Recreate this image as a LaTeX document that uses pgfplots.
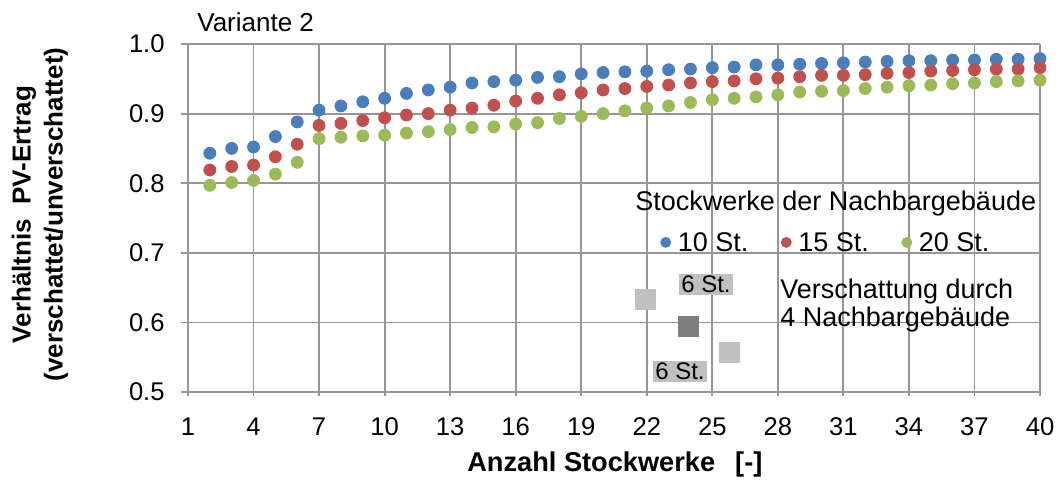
\documentclass[border=0pt]{standalone}
\usepackage{fontspec}
\setmainfont{Liberation Sans}
\usepackage{pgfplots}
\pgfplotsset{compat=1.18}
\definecolor{cb}{RGB}{74,126,187}
\definecolor{cr}{RGB}{192,80,77}
\definecolor{cg}{RGB}{155,187,89}
\definecolor{gridc}{RGB}{150,150,150}
\definecolor{lg}{RGB}{192,192,192}
\definecolor{dg}{RGB}{127,127,127}
\pgfdeclarelayer{whitebox}
\pgfplotsset{layers/mylayers/.define layer set={axis background,axis grid,whitebox,axis ticks,axis lines,axis tick labels,pre main,main,axis descriptions,axis foreground}{}}
\begin{document}
\begin{tikzpicture}
\begin{axis}[name=ax, set layers=mylayers,
  scale only axis, width=426pt, height=174pt,
  xmin=1, xmax=40, ymin=0.5, ymax=1.0,
  xtick={1,4,7,10,13,16,19,22,25,28,31,34,37,40},
  ytick={0.5,0.6,0.7,0.8,0.9,1.0},
  clip=false,
  grid=major,
  major grid style={draw=gridc, line width=0.9pt},
  axis lines=left,
  axis line style={draw=gridc, line width=0.9pt, -},
  tick style={draw=gridc, line width=0.9pt},
  major tick length=3.5pt,
  xtick align=center, ytick align=outside,
  /pgf/number format/assume math mode=true,
  tick label style={font=\fontsize{12.8}{15}\selectfont},
  xticklabel style={anchor=base, yshift=-20pt},
  yticklabel style={anchor=east, inner sep=0pt, xshift=-8pt, /pgf/number format/.cd, fixed, fixed zerofill, precision=1},
  xlabel={Anzahl Stockwerke\hspace{10pt}[-]},
  xlabel style={at={(axis description cs:0.501,-0.227)}, anchor=base, font=\bfseries\fontsize{13.6}{15}\selectfont},
  ylabel={Verhältnis\ \ PV-Ertrag\\(verschattet/unverschattet)},
  ylabel style={at={(axis description cs:-0.1737,0.51)}, anchor=center, align=center, font=\bfseries\fontsize{13}{16}\selectfont},
  legend columns=3,
  legend image code/.code={\path (0pt,7.9pt) (0pt,-2.5pt); \draw[#1, mark size=2.5pt] plot coordinates {(0pt,0pt)};},
  legend style={at={(axis cs:22.64,0.7198)}, anchor=west, draw=none, fill=none, inner sep=0pt, outer sep=0pt,
    font=\fontsize{13.5}{15}\selectfont,
    nodes={inner sep=0pt, text depth=0pt},
    /tikz/every odd column/.append style={column sep=3.5pt},
    /tikz/every even column/.append style={column sep=16.5pt}},
]
\begin{pgfonlayer}{whitebox}
\fill[white] (axis cs:20.68,0.509) rectangle (axis cs:39.82,0.809);
\end{pgfonlayer}

\addplot[only marks, mark=*, mark size=3pt, color=cb, mark options={draw=cb, fill=cb}] coordinates {
(2,0.843) (3,0.850) (4,0.852) (5,0.867) (6,0.888) (7,0.905) (8,0.911) (9,0.917) (10,0.922)
(11,0.929) (12,0.934) (13,0.938) (14,0.944) (15,0.946) (16,0.948) (17,0.952) (18,0.953)
(19,0.957) (20,0.959) (21,0.960) (22,0.961) (23,0.963) (24,0.964) (25,0.966) (26,0.967)
(27,0.970) (28,0.970) (29,0.971) (30,0.972) (31,0.973) (32,0.974) (33,0.975) (34,0.976)
(35,0.976) (36,0.977) (37,0.977) (38,0.978) (39,0.978) (40,0.979)};
\addlegendentry{10 St.}
\addplot[only marks, mark=*, mark size=3pt, color=cr, mark options={draw=cr, fill=cr}] coordinates {
(2,0.819) (3,0.824) (4,0.826) (5,0.838) (6,0.856) (7,0.883) (8,0.886) (9,0.890) (10,0.894)
(11,0.898) (12,0.900) (13,0.905) (14,0.908) (15,0.912) (16,0.918) (17,0.922) (18,0.927)
(19,0.930) (20,0.934) (21,0.936) (22,0.939) (23,0.941) (24,0.944) (25,0.946) (26,0.947)
(27,0.950) (28,0.951) (29,0.953) (30,0.955) (31,0.955) (32,0.956) (33,0.958) (34,0.959)
(35,0.961) (36,0.962) (37,0.963) (38,0.964) (39,0.964) (40,0.966)};
\addlegendentry{15 St.}
\addplot[only marks, mark=*, mark size=3pt, color=cg, mark options={draw=cg, fill=cg}] coordinates {
(2,0.797) (3,0.801) (4,0.804) (5,0.813) (6,0.830) (7,0.864) (8,0.866) (9,0.868) (10,0.869)
(11,0.872) (12,0.874) (13,0.877) (14,0.880) (15,0.881) (16,0.885) (17,0.887) (18,0.893)
(19,0.896) (20,0.900) (21,0.904) (22,0.908) (23,0.911) (24,0.916) (25,0.920) (26,0.922)
(27,0.924) (28,0.927) (29,0.931) (30,0.932) (31,0.933) (32,0.936) (33,0.938) (34,0.940)
(35,0.941) (36,0.943) (37,0.944) (38,0.946) (39,0.947) (40,0.948)};
\addlegendentry{20 St.}

\node[anchor=base west, inner sep=0pt, font=\fontsize{13}{15}\selectfont] at (axis cs:1.41,1.0177) {Variante 2};
\node[anchor=base west, inner sep=0pt, font=\fontsize{13.5}{15}\selectfont] at (axis cs:21.46,0.7615) {Stockwerke der Nachbargebäude};
\node[fill=lg, minimum size=10.5pt, inner sep=0pt] at (axis cs:21.92,0.6336) {};
\node[fill=dg, minimum size=10.5pt, inner sep=0pt] at (axis cs:23.89,0.5934) {};
\node[fill=lg, minimum size=10.5pt, inner sep=0pt] at (axis cs:25.79,0.5567) {};
\node[fill=lg, minimum height=10.5pt, inner xsep=1pt, inner ysep=0pt, font=\fontsize{12}{14}\selectfont] at (axis cs:24.71,0.6545) {6 St.};
\node[fill=lg, minimum height=10.5pt, inner xsep=1pt, inner ysep=0pt, font=\fontsize{12}{14}\selectfont] at (axis cs:23.52,0.530) {6 St.};
\node[anchor=base west, inner sep=0pt, font=\fontsize{13.5}{15}\selectfont] at (axis cs:28.10,0.6346) {Verschattung durch};
\node[anchor=base west, inner sep=0pt, font=\fontsize{13.5}{15}\selectfont] at (axis cs:28.10,0.5938) {4 Nachbargebäude};
\end{axis}
\pgfresetboundingbox
\path (ax.south west) ++(-94pt,-45pt) rectangle ++(531.5pt,241pt);
\end{tikzpicture}
\end{document}
